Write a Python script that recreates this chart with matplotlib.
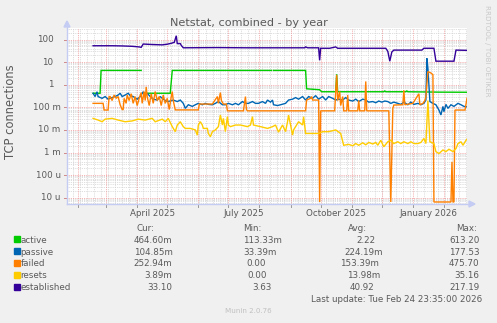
import matplotlib
matplotlib.use('Agg')
import matplotlib.pyplot as plt
import matplotlib.dates as mdates
import matplotlib.transforms as mtransforms
from matplotlib.lines import Line2D
from matplotlib.patches import Polygon, Rectangle
import numpy as np
import pandas as pd

start = pd.Timestamp('2025-01-21')
end = pd.Timestamp('2026-02-24')

# days after start / values for each series
active_days = [26, 33, 34, 74, 75, 76, 103, 105, 204, 205, 206, 238, 239, 252, 254, 268, 269, 270,
               316, 317, 318, 338, 339, 340, 372, 399]
active_vals = [0.42, 0.42, 4.3, 4.3, np.nan, 0.42, 0.42, 4.3, 4.3, np.nan, 4.3, 4.3, 0.66, 0.6, 0.49,
               0.49, 2.9, 0.49, 0.49, 0.53, 0.49, 0.49, 0.53, 0.49, 0.47, 0.4646]

passive_days = [26, 28, 30, 31, 35, 38, 41, 45, 48, 51, 53, 55, 58, 61, 63, 66, 70, 73, 76, 78, 80, 83,
                86, 90, 93, 96, 100, 103, 106, 110, 113, 116, 118, 121, 125, 128, 131, 135, 138, 141,
                145, 148, 151, 155, 158, 161, 165, 168, 171, 175, 178, 181, 185, 188, 191, 195, 198,
                200, 203, 205, 206, 210, 213, 218, 221, 225, 228, 231, 235, 238, 241, 245, 248, 251,
                255, 258, 261, 265, 268, 271, 275, 278, 281, 285, 288, 291, 295, 298, 301, 305, 308,
                311, 314, 317, 320, 323, 326, 330, 333, 336, 340, 343, 346, 350, 353, 356, 358, 359,
                360, 362, 365, 368, 371, 373, 375, 376, 378, 380, 383, 386, 390, 393, 396, 399]
passive_vals = [0.42, 0.30, 0.49, 0.30, 0.25, 0.30, 0.23, 0.27, 0.30, 0.35, 0.42, 0.30, 0.35, 0.42,
                0.33, 0.30, 0.23, 0.30, 0.49, 0.33, 0.42, 0.30, 0.23, 0.21, 0.30, 0.23, 0.18, 0.19,
                0.21, 0.18, 0.21, 0.15, 0.09, 0.13, 0.11, 0.13, 0.15, 0.13, 0.15, 0.135, 0.13, 0.15,
                0.18, 0.13, 0.13, 0.15, 0.13, 0.15, 0.13, 0.18, 0.15, 0.15, 0.18, 0.15, 0.15, 0.18,
                0.15, 0.21, 0.17, 0.21, 0.13, 0.12, 0.13, 0.15, 0.21, 0.23, 0.27, 0.23, 0.30, 0.21,
                0.30, 0.25, 0.33, 0.23, 0.30, 0.21, 0.30, 0.25, 0.21, 0.23, 0.21, 0.27, 0.21, 0.19,
                0.23, 0.18, 0.23, 0.21, 0.17, 0.18, 0.16, 0.19, 0.17, 0.19, 0.18, 0.15, 0.17, 0.15,
                0.135, 0.17, 0.13, 0.17, 0.135, 0.15, 0.13, 0.15, 0.21, 14.7, 5.3, 0.18, 0.15, 0.13,
                0.076, 0.046, 0.11, 0.064, 0.135, 0.09, 0.13, 0.11, 0.15, 0.13, 0.11, 0.105]

failed_days = [26, 36, 37, 41, 42, 43, 45, 47, 49, 51, 53, 55, 56, 57, 59, 60, 62, 64, 66, 68, 70, 72,
               74, 75, 77, 78, 79, 80, 82, 84, 86, 88, 90, 92, 94, 96, 98, 100, 102, 104, 105, 106,
               108, 131, 132, 145, 150, 151, 153, 154, 156, 159, 160, 176, 178, 179, 180, 238, 239,
               243, 244, 245, 251, 252, 253, 267, 269, 270, 272, 273, 275, 276, 279, 280, 281, 290,
               291, 292, 297, 298, 299, 316, 321, 323, 325, 326, 335, 336, 337, 345, 351, 352, 355,
               357, 358, 360, 363, 365, 366, 383, 384, 385, 386, 387, 397, 399]
failed_vals = [0.15, 0.15, 0.076, 0.076, 0.3, 0.3, 0.2, 0.35, 0.25, 0.3, 0.13, 0.08, 0.08, 0.25, 0.15,
               0.35, 0.2, 0.4, 0.15, 0.3, 0.12, 0.25, 0.45, 0.15, 0.5, 0.2, 0.8, 0.3, 0.12, 0.4, 0.15,
               0.5, 0.2, 0.3, 0.12, 0.35, 0.15, 0.25, 0.08, 0.3, 0.5, 0.2, 0.077, 0.077, 0.14, 0.14,
               0.3, 0.15, 0.45, 0.2, 0.14, 0.14, 0.07, 0.07, 0.3, 0.08, 0.07, 0.07, 0.21, 0.25, 0.3,
               0.21, 0.21, 0.0, 0.07, 0.07, 2.7, 0.2, 0.5, 0.12, 0.3, 0.07, 0.07, 0.35, 0.07, 0.07,
               0.2, 0.07, 0.07, 1.4, 0.07, 0.07, 0.07, 0.0, 0.09, 0.126, 0.13, 0.57, 0.13, 0.15, 0.4,
               0.13, 0.15, 0.2, 0.3, 3.8, 3.3, 2.8, 0.0, 0.0, 0.00039, 0.0, 0.0, 0.076, 0.076, 0.2529]

resets_days = [26, 31, 35, 38, 45, 51, 58, 65, 71, 78, 85, 88, 95, 98, 101, 105, 108, 110, 113, 116,
               118, 123, 128, 130, 131, 133, 135, 136, 140, 141, 143, 145, 148, 151, 153, 155, 156,
               158, 160, 161, 163, 168, 173, 180, 183, 185, 186, 193, 200, 205, 208, 211, 215, 218,
               220, 221, 223, 225, 226, 231, 235, 236, 238, 251, 255, 261, 268, 273, 276, 281, 285,
               288, 291, 295, 298, 301, 305, 308, 310, 313, 316, 320, 323, 326, 330, 333, 336, 340,
               343, 346, 350, 353, 356, 358, 360, 362, 366, 368, 371, 375, 378, 381, 385, 388, 390,
               393, 395, 398, 399]
resets_vals = [0.0325, 0.0274, 0.0231, 0.03, 0.0325, 0.0274, 0.0231, 0.025, 0.03, 0.0274, 0.0325,
               0.0231, 0.03, 0.0231, 0.0325, 0.014, 0.0084, 0.0165, 0.0231, 0.014, 0.0117, 0.0117,
               0.01, 0.0059, 0.0165, 0.0231, 0.0165, 0.0117, 0.0117, 0.007, 0.005, 0.0084, 0.01,
               0.014, 0.0457, 0.0165, 0.0325, 0.0084, 0.039, 0.0165, 0.014, 0.0165, 0.0165, 0.014,
               0.0165, 0.039, 0.0165, 0.014, 0.0117, 0.014, 0.0165, 0.008, 0.0165, 0.0084, 0.0231,
               0.0457, 0.0165, 0.0059, 0.01, 0.0231, 0.0165, 0.039, 0.007, 0.007, 0.0084, 0.0084,
               0.01, 0.007, 0.0021, 0.0023, 0.002, 0.0025, 0.0021, 0.0027, 0.0022, 0.0028, 0.0024,
               0.0028, 0.0021, 0.0035, 0.0018, 0.003, 0.0035, 0.0025, 0.003, 0.0025, 0.003, 0.0025,
               0.003, 0.0025, 0.0025, 0.0028, 0.0042, 0.0025, 0.2, 0.003, 0.0025, 0.0011, 0.0009,
               0.0013, 0.0011, 0.0014, 0.0011, 0.0015, 0.0025, 0.003, 0.0021, 0.0035, 0.00389]

established_days = [26, 45, 55, 65, 72, 74, 76, 85, 95, 100, 104, 107, 109, 110, 113, 114, 116, 150,
                    180, 237, 238, 240, 251, 252, 253, 262, 268, 270, 290, 318, 320, 322, 324, 326,
                    354, 356, 366, 368, 386, 388, 399]
established_vals = [53, 53, 52, 50, 47, 45, 63, 60, 58, 62, 68, 75, 147, 66, 66, 55, 43, 44, 43, 43,
                    47, 43, 43, 12, 41, 41, 47, 41, 41, 41, 30, 11, 28, 34, 34, 41, 41, 11, 11, 34, 33.1]

series_names = ['active', 'passive', 'failed', 'resets', 'established']
series_colors = ['#00CC00', '#0066B3', '#FF8000', '#FFCC00', '#330099']

# legend statistics
cur_vals = [0.4646, 0.10485, 0.25294, 0.00389, 33.10]
min_vals = [0.11333, 0.03339, 0.0, 0.0, 3.63]
avg_vals = [2.22, 0.22419, 0.15339, 0.01398, 40.92]
max_vals = [613.20, 177.53, 475.70, 35.16, 217.19]

ytick_vals = [100, 10, 1, 0.1, 0.01, 0.001, 1e-4, 1e-5]
ytick_num = ['100', '10', '1', '100 m', '10 m', '1 m', '100 u', '10 u']
xtick_dates = ['2025-04-16', '2025-07-16', '2025-10-16', '2026-01-16']
xtick_text = ['April 2025', 'July 2025', 'October 2025', 'January 2026']


def munin_fmt(v):
    if v == 0 or v >= 1:
        return '%.2f' % v
    return '%.2fm' % (v * 1000)


W, H = 497, 323
TXT = '#5a5a5a'
AXC = '#C4CCF4'
FS = 6.3


def fx(px):
    return px / W


def fy(py):
    return 1 - py / H


fig = plt.figure(figsize=(W / 100, H / 100), dpi=100, facecolor='#F0F0F0')
ax = fig.add_axes([fx(67), fy(204), fx(467) - fx(67), fy(28) - fy(204)])
ax.set_facecolor('white')
ax.set_yscale('log')
ymin, ymax = 5.3e-6, 323
ax.set_ylim(ymin, ymax)
ax.set_xlim(mdates.date2num(start), mdates.date2num(end))
for s in ax.spines.values():
    s.set_visible(False)

# grid: minor (grey) then major (red)
grid_minor = dict(color='#D2D2D2', lw=0.6, dashes=(1, 1.2), zorder=0)
grid_major = dict(color='#F29A9A', lw=0.6, dashes=(1, 1.2), zorder=0.5)
for e in range(-6, 3):
    for k in range(2, 10):
        v = k * 10.0 ** e
        if ymin < v < ymax:
            ax.axhline(v, **grid_minor)
for wk in pd.date_range('2025-01-27', end, freq='7D'):
    ax.axvline(mdates.date2num(wk), **grid_minor)
for v in ytick_vals:
    ax.axhline(v, **grid_major)
month_starts = pd.date_range('2025-02-01', end, freq='MS')
for m in month_starts:
    ax.axvline(mdates.date2num(m), **grid_major)

# data lines; zero values sit on the bottom edge like rrdtool draws them
floor = 6.5e-6
all_days = [active_days, passive_days, failed_days, resets_days, established_days]
all_vals = [active_vals, passive_vals, failed_vals, resets_vals, established_vals]
for days, vals, col in zip(all_days, all_vals, series_colors):
    x = mdates.date2num(start + pd.to_timedelta(days, unit='D'))
    y = np.maximum(np.array(vals, dtype=float), floor)
    ax.plot(x, y, color=col, lw=1.0, solid_joinstyle='miter', zorder=2)

# ticks
ax.set_yticks([])
ax.minorticks_off()
ax.set_xticks(mdates.date2num(pd.to_datetime(xtick_dates)), labels=[])
ax.tick_params(axis='x', length=0)
for m in month_starts:
    xm = mdates.date2num(m)
    ax.plot([xm, xm], [0, -3 / 176], transform=ax.get_xaxis_transform(), color='#999999',
            lw=0.7, clip_on=False)
for v in ytick_vals:
    ax.plot([-3 / 400, 0], [v, v], transform=ax.get_yaxis_transform(), color='#D08888',
            lw=0.7, clip_on=False)

ylab_tr = mtransforms.blended_transform_factory(fig.transFigure, ax.transData)
for v, lab in zip(ytick_vals, ytick_num):
    xr = 60.7 if ' ' in lab else 53.5
    ax.text(fx(xr), v, lab, transform=ylab_tr, ha='right', va='center', fontsize=FS, color=TXT)
xlab_tr = mtransforms.blended_transform_factory(ax.transData, fig.transFigure)
for d, lab in zip(xtick_dates, xtick_text):
    ax.text(mdates.date2num(pd.Timestamp(d)), fy(216), lab, transform=xlab_tr, ha='center',
            va='baseline', fontsize=FS, color=TXT)

# axes with arrows
fig.add_artist(Line2D([fx(67), fx(471)], [fy(204), fy(204)], color=AXC, lw=1.0))
fig.add_artist(Line2D([fx(67), fx(67)], [fy(204), fy(24)], color=AXC, lw=1.0))
fig.add_artist(Polygon([[fx(475), fy(204)], [fx(469), fy(201)], [fx(469), fy(207)]],
                       closed=True, color=AXC, transform=fig.transFigure))
fig.add_artist(Polygon([[fx(67), fy(21)], [fx(64), fy(27)], [fx(70), fy(27)]],
                       closed=True, color=AXC, transform=fig.transFigure))

# titles
fig.text(fx(249), fy(26), 'Netstat, combined - by year', ha='center', va='baseline',
         fontsize=8.1, color=TXT)
fig.text(fx(11), fy(112), 'TCP connections', ha='center', va='center', rotation=90,
         fontsize=8.3, color=TXT)
fig.text(fx(487), fy(51), 'RRDTOOL / TOBI OETIKER', ha='center', va='center', rotation=270,
         fontsize=5.1, color='#C8C8C8')

# legend table
head_x = [136.7, 242.7, 348.3, 455.7]
for hx, h in zip(head_x, ['Cur:', 'Min:', 'Avg:', 'Max:']):
    fig.text(fx(hx), fy(231), h, ha='left', va='baseline', fontsize=FS, color=TXT)

cur_right = [172.5] * 5
min_right = [282, 277, 266, 267, 272]
avg_right = [376, 383, 379, 380, 374]
max_right = [479.3] * 5
for i, name in enumerate(series_names):
    base = 242.7 + i * 11.9
    fig.add_artist(Rectangle((fx(14), fy(base - 0.5)), fx(6), fy(0) - fy(6),
                             color=series_colors[i], transform=fig.transFigure))
    fig.text(fx(20.7), fy(base), name, ha='left', va='baseline', fontsize=FS, color=TXT)
    for vals, rights in zip([cur_vals, min_vals, avg_vals, max_vals],
                            [cur_right, min_right, avg_right, max_right]):
        fig.text(fx(rights[i]), fy(base), munin_fmt(vals[i]), ha='right', va='baseline',
                 fontsize=FS, color=TXT)

fig.text(fx(482.3), fy(302), 'Last update: Tue Feb 24 23:35:00 2026', ha='right', va='baseline',
         fontsize=FS, color=TXT)
fig.text(fx(248.3), fy(313), 'Munin 2.0.76', ha='center', va='baseline', fontsize=5.1,
         color='#C0C0C0')

fig.savefig('out.png', dpi=100, facecolor=fig.get_facecolor())
